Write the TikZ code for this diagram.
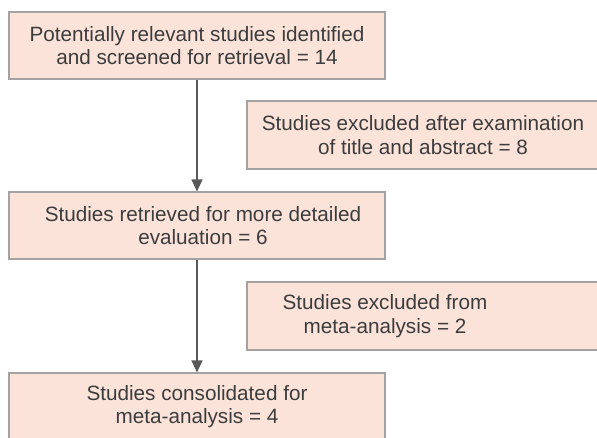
\documentclass[tikz,border=0pt]{standalone}
\usepackage{fontspec}
\setmainfont{Liberation Sans}
\usepackage{tikz}
\usetikzlibrary{arrows.meta}
\definecolor{boxfill}{HTML}{FBE3DA}
\definecolor{boxline}{HTML}{A3A3A3}
\definecolor{inkgray}{HTML}{3C3C3C}
\tikzset{flowbox/.style={rectangle,draw=boxline,fill=boxfill,line width=1.2pt,
		align=center,inner sep=0pt,text=inkgray,
		font=\fontsize{20.7}{23.5}\selectfont},
	mainbox/.style={flowbox,minimum width=376pt,minimum height=67pt},
	sidebox/.style={flowbox,minimum width=352pt,minimum height=68pt},
	flowarrow/.style={draw=inkgray!85,line width=1.3pt,-{Triangle[width=11pt,length=12pt]}}}

\begin{document}
\begin{tikzpicture}
	[x=1pt,y=1pt]
	\useasboundingbox (0,0) rectangle (597,-437);
	\node [mainbox] (screened) at (197,-45.5)
	{Potentially relevant studies identified\\and screened for retrieval = 14};
	\node [sidebox] (excltitle) at (423,-135)
	{Studies excluded after examination\\of title and abstract = 8};
	\node [mainbox] (retrieved) at (197,-225.5)
	{\hspace*{12pt}Studies retrieved for more detailed\\\hspace*{12pt}evaluation = 6};
	\node [sidebox] (exclmeta) at (423,-316) {};
	\node [flowbox,draw=none,fill=none] (exclmetatext) at (385,-316)
	{Studies excluded from\\meta-analysis = 2};
	\node [mainbox] (consolidated) at (197,-406.5)
	{Studies consolidated for\\meta-analysis = 4};
	\draw [flowarrow] (screened) -- (retrieved);
	\draw [flowarrow] (retrieved) -- (consolidated);
\end{tikzpicture}
\end{document}
